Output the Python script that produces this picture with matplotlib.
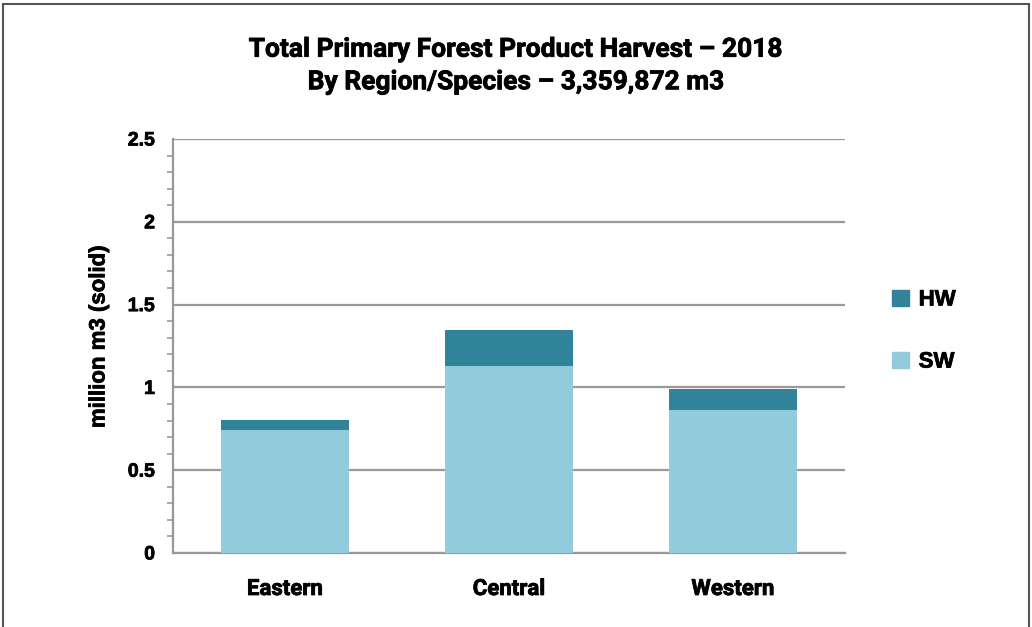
import matplotlib
matplotlib.use("Agg")
import matplotlib.pyplot as plt
from matplotlib.patches import Rectangle, Patch
from matplotlib.ticker import MultipleLocator
import matplotlib.patheffects as pe

regions = ["Eastern", "Central", "Western"]
sw = [0.745, 1.131, 0.865]
hw = [0.060, 0.218, 0.127]
title = "Total Primary Forest Product Harvest \u2013 2018\nBy Region/Species \u2013 3,359,872 m3"

plt.rcParams['font.family'] = ['Roboto', 'DejaVu Sans']
heavy = [pe.withStroke(linewidth=0.55, foreground='black')]

fig = plt.figure(figsize=(10.32, 6.27), dpi=100)
W, H = 1032, 627
ax = fig.add_axes([173 / W, 1 - 553 / H, (845 - 173) / W, (553 - 139) / H])

c_sw = "#92CBDC"
c_hw = "#31839A"
x = range(len(regions))
ax.bar(x, sw, width=0.57, color=c_sw, zorder=3, label="SW")
ax.bar(x, hw, bottom=sw, width=0.57, color=c_hw, zorder=3, label="HW")

ax.set_xlim(-0.5, 2.5)
ax.set_ylim(0, 2.5)
ax.yaxis.set_minor_locator(MultipleLocator(0.1))
ax.set_yticks([0, 0.5, 1, 1.5, 2, 2.5])
ax.set_yticklabels(["0", "0.5", "1", "1.5", "2", "2.5"],
                   fontdict={'family': 'Liberation Sans', 'weight': 'bold', 'size': 14})
ax.set_xticks(list(x))
ax.set_xticklabels(regions, fontdict={'family': 'Roboto', 'weight': 'bold', 'size': 16})
for lab in ax.get_xticklabels() + ax.get_yticklabels():
    lab.set_path_effects(heavy)
ax.grid(axis='y', which='major', color="#999999", linewidth=1.6, zorder=0)
for s in ["top", "right"]:
    ax.spines[s].set_visible(False)
for s in ["left", "bottom"]:
    ax.spines[s].set_color("#999999")
    ax.spines[s].set_linewidth(1.6)
ax.tick_params(axis='y', which='major', length=0, pad=13)
ax.tick_params(axis='y', which='minor', length=4, color="#999999", width=1.2)
ax.tick_params(axis='x', length=0, pad=18)

fig.text(99 / W, 1 - 337 / H, "million m3 (solid)", rotation=90, ha='center', va='center',
         fontsize=16, fontweight='bold', family='Liberation Sans', path_effects=heavy)
fig.text(516 / W, 1 - 66 / H, title, ha='center', va='center', fontsize=19,
         fontweight='bold', family='Roboto', linespacing=1.45, path_effects=heavy)

handles = [Patch(color=c_hw, label="HW"), Patch(color=c_sw, label="SW")]
leg = fig.legend(handles=handles, loc='center left', bbox_to_anchor=(872 / W, 1 - 331 / H),
                 frameon=False, handlelength=0.75, handleheight=0.75,
                 labelspacing=1.85, handletextpad=0.45,
                 prop={'weight': 'bold', 'size': 16, 'family': 'Liberation Sans'})
for t in leg.get_texts():
    t.set_path_effects(heavy)

fig.patches.append(Rectangle((3 / W, -0.01), (1029 - 3) / W, 1 - 4 / H + 0.01,
                             transform=fig.transFigure, fill=False,
                             edgecolor="#555555", linewidth=1.5))

fig.savefig("out.png", dpi=100)
